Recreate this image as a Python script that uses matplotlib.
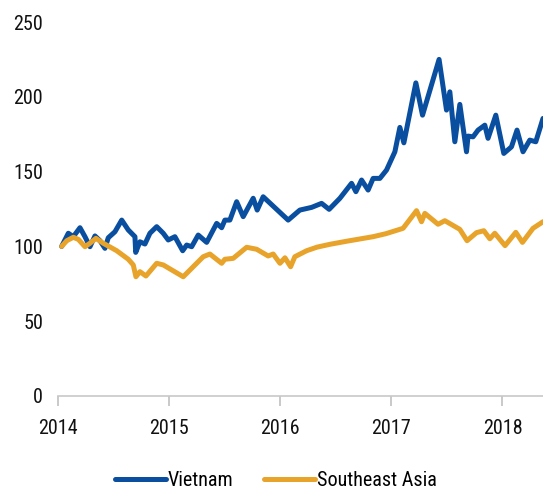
import matplotlib.pyplot as plt
from matplotlib import font_manager

# decimal years
vn_years = [2014.03, 2014.09, 2014.135, 2014.195, 2014.24, 2014.285, 2014.33, 2014.375,
            2014.42, 2014.45, 2014.51, 2014.571, 2014.63, 2014.69, 2014.697, 2014.735,
            2014.78, 2014.825, 2014.886, 2014.945, 2014.99, 2015.05, 2015.12, 2015.156,
            2015.201, 2015.26, 2015.336, 2015.426, 2015.471, 2015.5, 2015.545, 2015.606,
            2015.665, 2015.755, 2015.791, 2015.845, 2016.07, 2016.175, 2016.281, 2016.371,
            2016.439, 2016.536, 2016.641, 2016.68, 2016.731, 2016.79, 2016.835, 2016.896,
            2016.956, 2017.031, 2017.076, 2017.112, 2017.22, 2017.28, 2017.429, 2017.496,
            2017.526, 2017.571, 2017.616, 2017.676, 2017.69, 2017.735, 2017.78, 2017.841,
            2017.87, 2017.94, 2018.012, 2018.081, 2018.131, 2018.185, 2018.246, 2018.3,
            2018.365]
vietnam = [100, 108.8, 106.5, 112.5, 106.5, 99.8, 107, 103.8,
           98.7, 105.8, 109.8, 117.6, 111, 106.5, 96, 103.1,
           101.6, 108.8, 113.2, 108.8, 104.3, 106.5, 97.1, 100.9,
           99.8, 107.6, 102.7, 115.4, 112.5, 117.6, 117.6, 129.9,
           119.9, 132.2, 124.3, 133.2, 117.6, 124.3, 126.1, 128.8,
           124.8, 132.2, 142.2, 136.6, 144.4, 137.7, 145.5, 145.5,
           151.1, 163.3, 179.6, 169.3, 209.4, 187.8, 225.1, 191.2,
           203.4, 170, 195, 163.3, 173.8, 173.3, 177.8, 181.1,
           172.3, 187.8, 162.2, 166.6, 177.8, 163.3, 171.1, 170,
           185.6]

sea_years = [2014.03, 2014.076, 2014.135, 2014.18, 2014.24, 2014.285, 2014.339, 2014.405,
             2014.526, 2014.63, 2014.675, 2014.699, 2014.735, 2014.789, 2014.886, 2014.945,
             2015.125, 2015.305, 2015.365, 2015.471, 2015.5, 2015.575, 2015.696, 2015.786,
             2015.89, 2015.935, 2015.996, 2016.041, 2016.092, 2016.13, 2016.236, 2016.33,
             2016.446, 2016.6, 2016.835, 2016.95, 2017.105, 2017.226, 2017.271, 2017.301,
             2017.42, 2017.481, 2017.616, 2017.681, 2017.766, 2017.832, 2017.886, 2017.931,
             2018.023, 2018.12, 2018.18, 2018.275, 2018.365]
southeast_asia = [100, 103.8, 106.1, 104.7, 99.8, 102.1, 105.4, 102.1,
                  97.1, 91.4, 87.6, 79.7, 83.1, 80.2, 88.7, 87.6,
                  79.7, 93.1, 94.9, 88.7, 91.4, 92, 99.4, 98.1,
                  93.6, 94.9, 88.7, 92.4, 86.4, 93.1, 97.1, 99.5,
                  101.4, 103.5, 106.5, 108.5, 112.1, 123.9, 116.5, 122.1,
                  114.8, 117.2, 111.4, 103.8, 109.2, 110.5, 105.1, 108.8,
                  100.5, 109.4, 102.7, 112.1, 116.5]

year_ticks = [2014, 2015, 2016, 2017, 2018]
value_ticks = [0, 50, 100, 150, 200, 250]

# narrow sans for the labels, whichever is available
installed = {f.name for f in font_manager.fontManager.ttflist}
font = 'DejaVu Sans'
for name in ['Roboto Condensed', 'Archivo Narrow', 'PT Sans Narrow', 'Liberation Sans Narrow',
             'Open Sans Condensed', 'Encode Sans Condensed']:
    if name in installed:
        font = name
        break
plt.rcParams['font.family'] = [font, 'DejaVu Sans']


def main():
    fig = plt.figure(figsize=(5.43, 4.93), dpi=100)
    ax = fig.add_axes([0.1074, 0.197, 0.8926, 0.758])

    ax.plot(vn_years, vietnam, color='#0a4ea0', lw=3.6, label='Vietnam',
            solid_joinstyle='round', solid_capstyle='round')
    ax.plot(sea_years, southeast_asia, color='#e8a32b', lw=3.6, label='Southeast Asia',
            solid_joinstyle='round', solid_capstyle='round')

    ax.set_xlim(2014, 2018.365)
    ax.set_ylim(0, 250)
    ax.set_xticks(year_ticks)
    ax.set_yticks(value_ticks)

    for s in ['top', 'right', 'left']:
        ax.spines[s].set_visible(False)
    ax.spines['bottom'].set_color('#c8c8c8')
    ax.spines['bottom'].set_linewidth(1.2)
    ax.tick_params(axis='x', colors='#c0c0c0', length=7, width=1.2, pad=10,
                   labelcolor='#111111', labelsize=14.5)
    ax.tick_params(axis='y', length=0, pad=11, labelcolor='#111111', labelsize=14.5)

    fig.legend(loc='lower center', bbox_to_anchor=(0.508, -0.03), ncol=2, frameon=False,
               fontsize=14.5, handlelength=2.55, handletextpad=0.1, columnspacing=1.5)

    fig.savefig('out.png', dpi=100)


if __name__ == "__main__":
    main()
